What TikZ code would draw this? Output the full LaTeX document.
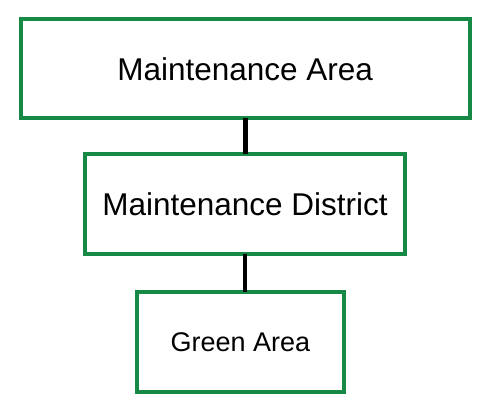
\documentclass[tikz,border=0pt]{standalone}
\usepackage{fontspec}
\setmainfont{Liberation Sans}
\definecolor{boxgreen}{RGB}{21,137,69}

\begin{document}
\begin{tikzpicture}[x=1pt, y=1pt,
    areabox/.style={draw=boxgreen, line width=4pt, inner sep=0pt, outer sep=0pt}]
    \useasboundingbox (0,0) rectangle (500,410);
    \node[areabox, minimum width=448.5pt, minimum height=98.5pt,
        font=\fontsize{31.5}{38}\selectfont] (area) at (245.25,341.25) {Maintenance Area};
    \node[areabox, minimum width=320pt, minimum height=100pt,
        font=\fontsize{31.5}{38}\selectfont] (district) at (245,206) {Maintenance District};
    \node[areabox, minimum width=207pt, minimum height=99.5pt,
        font=\fontsize{27}{32}\selectfont] (green) at (240.5,68.25) {Green Area};
    \draw[black, line width=4.5pt] (area.south) -- (area.south |- district.north);
    \draw[black, line width=4.5pt] (district.south) -- (district.south |- green.north);
\end{tikzpicture}
\end{document}
